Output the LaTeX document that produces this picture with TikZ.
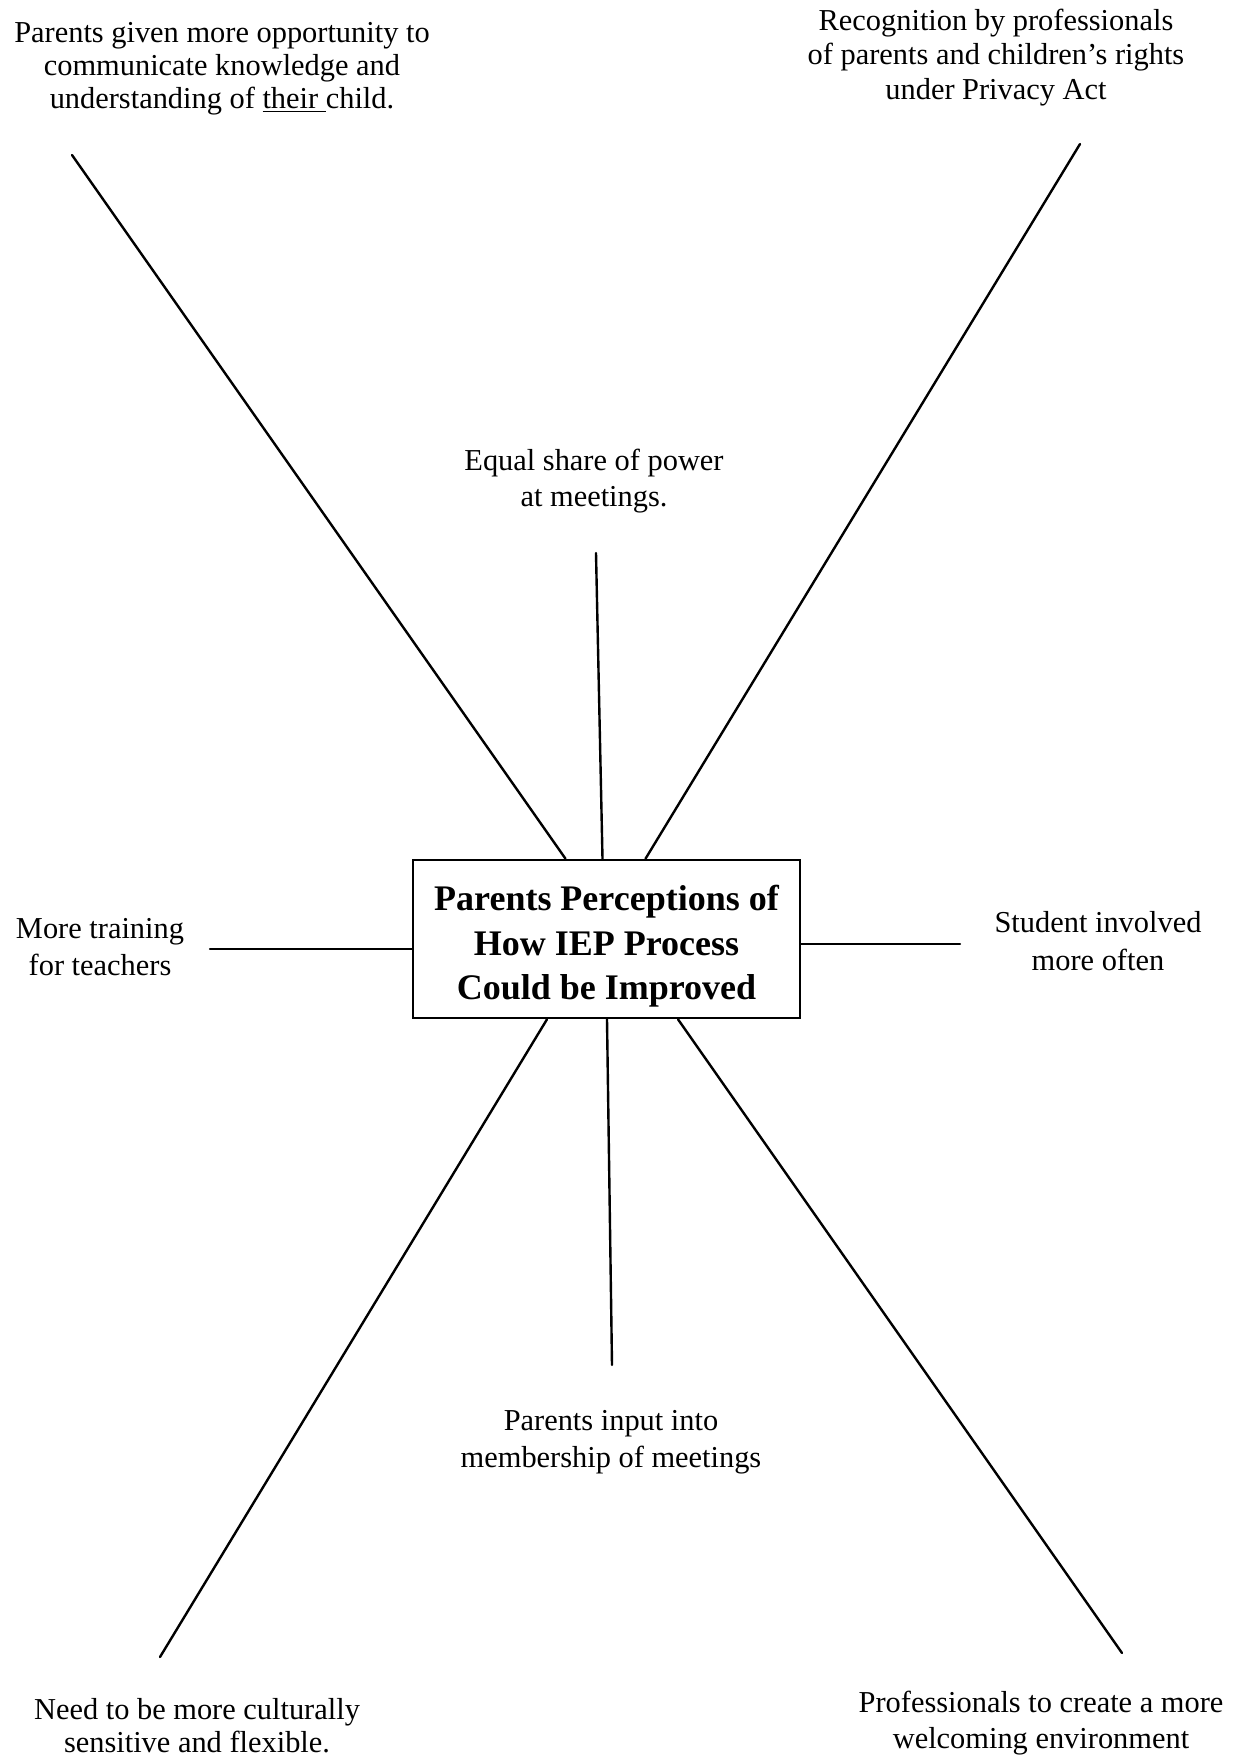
\documentclass[tikz,border=0pt]{standalone}
\usepackage{fontspec}
\setmainfont{Liberation Serif}
\begin{document}
\begin{tikzpicture}[x=0.5pt,y=-0.5pt,
  spoke/.style={line width=1.2pt,line cap=round},
  idea/.style={anchor=base,inner sep=0pt,align=center,
    font=\fontsize{15.2}{17.5}\selectfont},
  hub/.style={draw,line width=1.3pt,inner sep=0pt,align=center,
    minimum width=193.5pt,minimum height=79pt,
    text height=64.4pt,text depth=3.9pt,
    font=\fontsize{18}{22.2}\selectfont\bfseries}]
\useasboundingbox (0,0) rectangle (1234,1757);

% central topic
\node[hub] (hub) at (606.5,939)
  {Parents Perceptions of\\How IEP Process\\Could be Improved};

% surrounding ideas (positioned by the baseline of their last line)
\node[idea,font=\fontsize{15.2}{16.5}\selectfont] (tl) at (222,108)
  {Parents given more opportunity to\\communicate knowledge and\\understanding of \underline{their\ }child.};
\node[idea,font=\fontsize{15.2}{17.25}\selectfont] (tr) at (996,99)
  {Recognition by professionals\\of parents and children's rights\\under Privacy Act};
\node[idea,font=\fontsize{15.2}{18}\selectfont] (top) at (594,506)
  {Equal share of power\\at meetings.};
\node[idea,font=\fontsize{15.2}{18.5}\selectfont] (left) at (100,975)
  {More training\\for teachers};
\node[idea,font=\fontsize{15.2}{19}\selectfont] (right) at (1098,970)
  {Student involved\\more often};
\node[idea,font=\fontsize{15.2}{18.5}\selectfont] (bot) at (611,1467)
  {Parents input into\\membership of meetings};
\node[idea,font=\fontsize{15.2}{16.5}\selectfont] (bl) at (197,1752)
  {Need to be more culturally\\sensitive and flexible.};
\node[idea,font=\fontsize{15.2}{18}\selectfont] (br) at (1041,1748)
  {Professionals to create a more\\welcoming environment};

% free ends of the spokes
\coordinate (eTL) at (72,155);
\coordinate (eTop) at (596,553);
\coordinate (eTR) at (1080,144);
\coordinate (eL) at (210,949);
\coordinate (eR) at (960,944);
\coordinate (eBL) at (160,1657);
\coordinate (eBot) at (612,1365);
\coordinate (eBR) at (1122,1653);

% spokes from the box
\draw[spoke] ([xshift=-20.5pt]hub.north) -- (eTL);
\draw[spoke] ([xshift=-2pt]hub.north) -- (eTop);
\draw[spoke] ([xshift=19.5pt]hub.north) -- (eTR);
\draw[spoke] ([yshift=-5pt]hub.west) -- (eL);
\draw[spoke] ([yshift=-2.5pt]hub.east) -- (eR);
\draw[spoke] ([xshift=-29.75pt]hub.south) -- (eBL);
\draw[spoke] ([xshift=0.25pt]hub.south) -- (eBot);
\draw[spoke] ([xshift=35.75pt]hub.south) -- (eBR);
\end{tikzpicture}
\end{document}
